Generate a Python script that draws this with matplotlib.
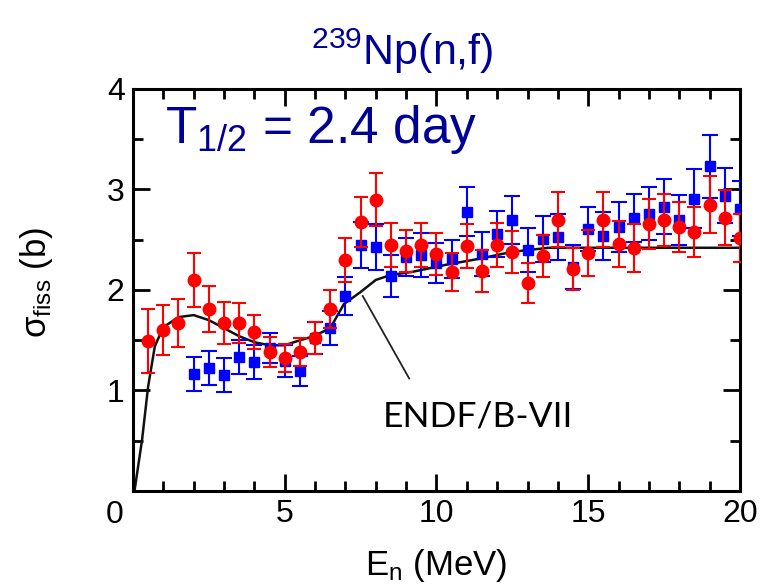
import matplotlib.pyplot as plt
from matplotlib.ticker import MultipleLocator, FuncFormatter

plt.rcParams['font.family'] = ['Liberation Sans', 'DejaVu Sans']
plt.rcParams['mathtext.fontset'] = 'custom'
plt.rcParams['mathtext.rm'] = 'Liberation Sans'
plt.rcParams['mathtext.it'] = 'Liberation Sans:italic'

# measured cross sections, set 1 (red circles)
e_red = [0.5, 1.0, 1.5, 2.0, 2.5, 3.0, 3.5, 4.0, 4.5, 5.0,
         5.5, 6.0, 6.5, 7.0, 7.5, 8.0, 8.5, 9.0, 9.5, 10.0,
         10.5, 11.0, 11.5, 12.0, 12.5, 13.0, 13.5, 14.0, 14.5, 15.0,
         15.5, 16.0, 16.5, 17.0, 17.5, 18.0, 18.5, 19.0, 19.5, 20.0]
sig_red = [1.49, 1.60, 1.67, 2.10, 1.81, 1.67, 1.67, 1.58, 1.38, 1.32,
           1.38, 1.52, 1.81, 2.30, 2.68, 2.90, 2.45, 2.39, 2.45, 2.36,
           2.18, 2.44, 2.19, 2.45, 2.38, 2.07, 2.34, 2.70, 2.21, 2.37,
           2.70, 2.46, 2.42, 2.66, 2.70, 2.63, 2.58, 2.85, 2.72, 2.52]
err_red = [0.32, 0.25, 0.24, 0.27, 0.23, 0.21, 0.20, 0.17, 0.15, 0.14,
           0.14, 0.16, 0.19, 0.22, 0.25, 0.26, 0.22, 0.21, 0.22, 0.21,
           0.19, 0.22, 0.21, 0.22, 0.21, 0.20, 0.21, 0.27, 0.21, 0.23,
           0.27, 0.23, 0.24, 0.25, 0.26, 0.25, 0.25, 0.28, 0.27, 0.24]

# measured cross sections, set 2 (blue squares)
e_blue = [2.0, 2.5, 3.0, 3.5, 4.0, 4.5, 5.0, 5.5, 6.0, 6.5,
          7.0, 7.5, 8.0, 8.5, 9.0, 9.5, 10.0, 10.5, 11.0, 11.5,
          12.0, 12.5, 13.0, 13.5, 14.0, 14.5, 15.0, 15.5, 16.0, 16.5,
          17.0, 17.5, 18.0, 18.5, 19.0, 19.5, 20.0]
sig_blue = [1.16, 1.22, 1.15, 1.33, 1.28, 1.42, 1.29, 1.19, 1.52, 1.62,
            1.94, 2.45, 2.43, 2.14, 2.33, 2.35, 2.27, 2.31, 2.78, 2.36,
            2.56, 2.70, 2.40, 2.51, 2.53, 2.23, 2.61, 2.54, 2.63, 2.72,
            2.76, 2.83, 2.70, 2.91, 3.23, 2.94, 2.81]
err_blue = [0.17, 0.17, 0.17, 0.17, 0.17, 0.15, 0.16, 0.15, 0.16, 0.17,
            0.19, 0.23, 0.23, 0.21, 0.19, 0.22, 0.20, 0.19, 0.24, 0.22,
            0.23, 0.24, 0.22, 0.23, 0.23, 0.22, 0.22, 0.24, 0.25, 0.24,
            0.26, 0.27, 0.25, 0.29, 0.31, 0.27, 0.27]

# evaluated curve
e_endf = [0.05, 0.3, 0.5, 0.72, 1.0, 1.5, 2.0, 2.5, 3.0, 3.5, 4.0, 4.5,
          5.0, 5.4, 5.95, 6.5, 6.95, 7.5, 8.0, 8.5, 9.2, 10.3, 11.4,
          12.5, 13.7, 15.0, 20.0]
sig_endf = [0.0, 0.51, 1.04, 1.44, 1.63, 1.73, 1.75, 1.70, 1.62, 1.54, 1.48,
            1.45, 1.45, 1.49, 1.54, 1.62, 1.86, 1.98, 2.10, 2.15, 2.18, 2.25,
            2.31, 2.38, 2.42, 2.42, 2.42]

navy = '#000096'

fig = plt.figure(figsize=(7.62, 5.85), dpi=100)
ax = fig.add_axes([0.1745, 0.1607, 0.7966, 0.6872])

ax.plot(e_endf, sig_endf, color='#111111', lw=1.8, zorder=2)
ax.errorbar(e_blue, sig_blue, yerr=err_blue, fmt='s', color='#0000ff',
            ms=7.5, elinewidth=1.5, capsize=6, capthick=1.5, zorder=3)
ax.errorbar(e_red, sig_red, yerr=err_red, fmt='o', color='#ff0000',
            ms=9, elinewidth=1.5, capsize=5, capthick=1.5, zorder=4)

ax.plot([7.57, 9.10], [1.94, 1.12], color='#222222', lw=1.3)
ax.text(11.35, 0.74, 'ENDF/B-VII', family='Lato', fontsize=25.5,
        ha='center', va='center')

ax.set_xlim(0, 20)
ax.set_ylim(0, 4)
ax.xaxis.set_major_locator(MultipleLocator(5))
ax.xaxis.set_minor_locator(MultipleLocator(1))
# the zero label is drawn separately, shifted off the y axis
ax.xaxis.set_major_formatter(FuncFormatter(lambda v, p: '' if v == 0 else f'{v:g}'))
ax.set_yticks([1, 2, 3, 4])
ax.yaxis.set_minor_locator(MultipleLocator(0.5))
ax.tick_params(which='both', direction='in', top=True, right=True,
               width=2, labelsize=23, pad=6)
ax.tick_params(which='major', length=12)
ax.tick_params(which='minor', length=7)
for s in ax.spines.values():
    s.set_linewidth(2.2)

ax.annotate('0', xy=(0, 0), xycoords='data', xytext=(-13, -6.5),
            textcoords='offset points', ha='center', va='top', fontsize=23,
            annotation_clip=False)

ax.set_xlabel(r'E$_\mathrm{n}$ (MeV)', fontsize=25)
ax.xaxis.set_label_coords(0.5, -0.14)
ax.set_ylabel(r'σ$_\mathrm{fiss}$ (b)', fontsize=25)
ax.yaxis.set_label_coords(-0.128, 0.52)

fig.text(0.528, 0.889, r'$^\mathrm{239}$Np(n,f)', fontsize=31,
         color=navy, ha='center', va='baseline')
fig.text(0.2165, 0.7556, r'T$_\mathrm{1/2}$ = 2.4 day', fontsize=37,
         color=navy, ha='left', va='baseline')

fig.savefig('out.png', dpi=100)
